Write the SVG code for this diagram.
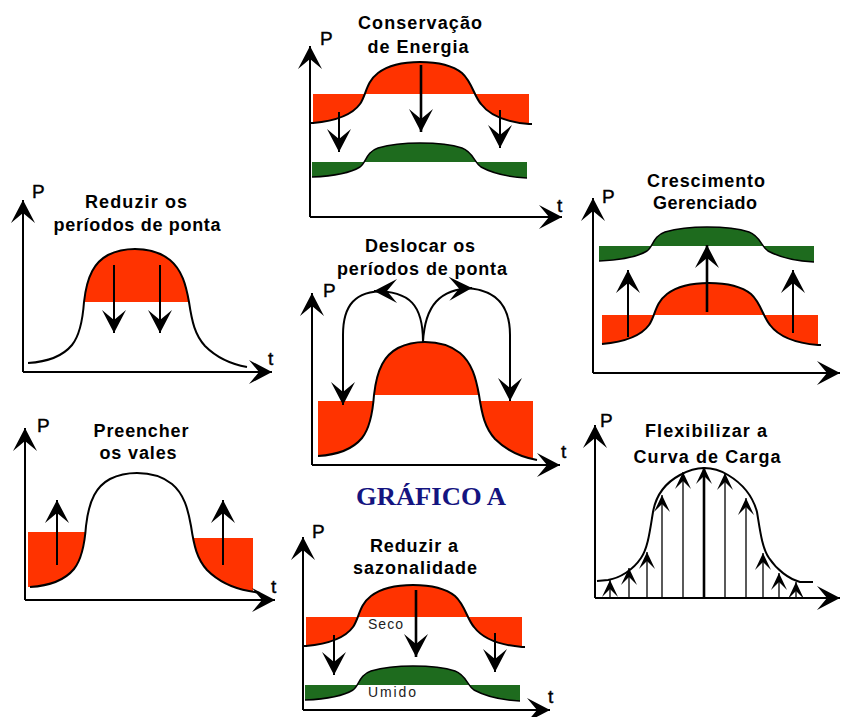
<svg xmlns="http://www.w3.org/2000/svg" xmlns:xlink="http://www.w3.org/1999/xlink" width="841" height="717" viewBox="0 0 841 717">
<style>
.ax{stroke:#000;stroke-width:2;fill:none;marker-end:url(#ah)}
.cv{stroke:#000;stroke-width:2;fill:none}
.cvg{stroke:#000;stroke-width:1.5;fill:none}
.red{fill:#ff3300}
.grn{fill:#1e6b1e}
.ar{stroke:#000;stroke-width:2;fill:none;marker-end:url(#ah)}
.arm{stroke:#000;stroke-width:2.6;fill:none;marker-end:url(#ah)}
.ars{stroke:#000;stroke-width:1.3;fill:none;marker-end:url(#ahs)}
.ttl{font-family:"Liberation Sans",Arial,sans-serif;font-weight:bold;font-size:18px;text-anchor:middle;fill:#000}
.lbl{font-family:"Liberation Sans",Arial,sans-serif;font-size:19px;fill:#000;stroke:#000;stroke-width:0.4}
.sm{font-family:"Liberation Sans",Arial,sans-serif;font-size:14px;fill:#222}
.gr{font-family:"Liberation Serif","Times New Roman",serif;font-weight:bold;font-size:26px;fill:#141480;text-anchor:middle}
</style>
<defs>
<marker id="ah" markerUnits="userSpaceOnUse" orient="auto" overflow="visible" markerWidth="1" markerHeight="1" refX="0" refY="0">
<path d="M0,0 L-23,-12 L-13,0 L-23,12 Z" fill="#000"/>
</marker>
<marker id="ahs" markerUnits="userSpaceOnUse" orient="auto" overflow="visible" markerWidth="1" markerHeight="1" refX="0" refY="0">
<path d="M0,0 L-17,-8 L-9,0 L-17,8 Z" fill="#000"/>
</marker>
<g id="bandR">
<path class="red" d="M313,123 C335,121 352,115 360,104 C366,96 366,82 378,73 C390,64 405,62 420,62 C437,62 452,65 462,73 C472,82 474,96 481,104 C490,116 505,122 529,124 V94 H313 Z"/>
<path class="cv" d="M313,123 C335,121 352,115 360,104 C366,96 366,82 378,73 C390,64 405,62 420,62 C437,62 452,65 462,73 C472,82 474,96 481,104 C490,116 505,122 529,124 L532,124"/>
</g>
<g id="bandG">
<path class="grn" d="M312,177 C335,176 352,172 360,167 C366,163 366,152 378,148 C392,144 405,143 420,143 C437,143 450,144 462,148 C473,152 474,162 481,167 C492,173 508,177 527,178 V162 H312 Z"/>
<path class="cvg" d="M312,177 C335,176 352,172 360,167 C366,163 366,152 378,148 C392,144 405,143 420,143 C437,143 450,144 462,148 C473,152 474,162 481,167 C492,173 508,177 527,178"/>
</g>
<clipPath id="clip5"><path d="M30,587 C47,586 64,581 74,569 C82,559 85,540 86,526 C89,499 97,486 110,479 C120,474 130,473 137,473 C150,473 162,476 172,484 C184,494 188,509 191,526 C194,546 197,559 207,570 C217,580 232,588 249,591 L262,593 V440 H20 V587 Z"/></clipPath>
<clipPath id="clip4"><path d="M318,456 C335,455 352,450 362,438 C370,428 373,409 374,395 C377,368 385,355 398,348 C408,343 418,342 425,342 C438,342 450,345 460,353 C472,363 476,378 479,395 C482,415 485,428 495,439 C505,449 520,457 537,460 V300 H310 V456 Z"/></clipPath>
</defs>
<rect width="841" height="717" fill="#fff"/>

<g id="conservacao">
<use xlink:href="#bandR"/>
<use xlink:href="#bandG"/>
<path class="cv" d="M310,123 H314"/>
<text class="ttl" x="420" y="29" textLength="124" lengthAdjust="spacing">Conservação</text>
<text class="ttl" x="418" y="53" textLength="101" lengthAdjust="spacing">de Energia</text>
<text class="lbl" x="320" y="45">P</text>
<text class="lbl" x="557" y="212">t</text>
</g>

<g id="reduzir-ponta">
<path class="red" d="M84,302 C87,275 95,262 108,255 C118,250 128,249 135,249 C148,249 160,252 170,260 C182,270 186,285 189,302 Z"/>
<path class="cv" d="M28,363 C45,362 62,357 72,345 C80,335 83,316 84,302 C87,275 95,262 108,255 C118,250 128,249 135,249 C148,249 160,252 170,260 C182,270 186,285 189,302 C192,322 195,335 205,346 C215,356 230,364 247,367"/>
<text class="ttl" x="136" y="208" textLength="102" lengthAdjust="spacing">Reduzir os</text>
<text class="ttl" x="137" y="231" textLength="167" lengthAdjust="spacing">períodos de ponta</text>
<text class="lbl" x="32" y="198">P</text>
<text class="lbl" x="268" y="365">t</text>
</g>

<g id="crescimento">
<use xlink:href="#bandG" transform="translate(287,84)"/>
<use xlink:href="#bandR" transform="translate(289,221)"/>
<text class="ttl" x="706" y="187" textLength="118" lengthAdjust="spacing">Crescimento</text>
<text class="ttl" x="705" y="209" textLength="104" lengthAdjust="spacing">Gerenciado</text>
<text class="lbl" x="602" y="203">P</text>
</g>

<g id="deslocar">
<path class="red" d="M374,395 C377,368 385,355 398,348 C408,343 418,342 425,342 C438,342 450,345 460,353 C472,363 476,378 479,395 Z"/>
<g clip-path="url(#clip4)">
<rect class="red" x="318" y="401" width="60" height="62"/>
<rect class="red" x="474" y="401" width="59" height="62"/>
</g>
<path class="cv" d="M318,456 C335,455 352,450 362,438 C370,428 373,409 374,395 C377,368 385,355 398,348 C408,343 418,342 425,342 C438,342 450,345 460,353 C472,363 476,378 479,395 C482,415 485,428 495,439 C505,449 520,457 537,460"/>
<text class="ttl" x="420" y="252" textLength="110" lengthAdjust="spacing">Deslocar os</text>
<text class="ttl" x="422" y="275" textLength="170" lengthAdjust="spacing">períodos de ponta</text>
<text class="lbl" x="323" y="297">P</text>
<text class="lbl" x="561" y="458">t</text>
</g>

<g id="preencher">
<g clip-path="url(#clip5)">
<rect class="red" x="28" y="532" width="60" height="62"/>
<rect class="red" x="185" y="538" width="68" height="60"/>
</g>
<path class="cv" d="M30,587 C47,586 64,581 74,569 C82,559 85,540 86,526 C89,499 97,486 110,479 C120,474 130,473 137,473 C150,473 162,476 172,484 C184,494 188,509 191,526 C194,546 197,559 207,570 C217,580 232,588 249,591 L260,593"/>
<text class="ttl" x="141" y="437" textLength="95" lengthAdjust="spacing">Preencher</text>
<text class="ttl" x="138" y="459" textLength="77" lengthAdjust="spacing">os vales</text>
<text class="lbl" x="37" y="432">P</text>
<text class="lbl" x="271" y="593">t</text>
</g>

<g id="flexibilizar">
<path class="cv" d="M597,581 L608,580 C620,578 633,570 641,558 C648,548 650,530 653,512 C656,495 665,483 680,475 C689,470 696,468 704,468 C713,468 720,470 728,475 C743,484 753,497 757,512 C760,530 762,548 769,558 C777,570 789,579 800,582 L813,582"/>
<text class="ttl" x="706" y="437" textLength="122" lengthAdjust="spacing">Flexibilizar a</text>
<text class="ttl" x="707" y="463" textLength="147" lengthAdjust="spacing">Curva de Carga</text>
<text class="lbl" x="600" y="427">P</text>
</g>

<g id="sazonalidade">
<use xlink:href="#bandR" transform="translate(-7,523)"/>
<use xlink:href="#bandG" transform="translate(-7,523)"/>
<path class="cv" d="M303,646 H307"/>
<text class="sm" x="368" y="629" textLength="35" lengthAdjust="spacing">Seco</text>
<text class="sm" x="368" y="697" textLength="48" lengthAdjust="spacing">Umido</text>
<text class="ttl" x="414" y="552" textLength="88" lengthAdjust="spacing">Reduzir a</text>
<text class="ttl" x="415" y="574" textLength="124" lengthAdjust="spacing">sazonalidade</text>
<text class="lbl" x="312" y="538">P</text>
<text class="lbl" x="548" y="703">t</text>
</g>

<g id="titulo">
<text class="gr" x="431" y="505" textLength="150" lengthAdjust="spacingAndGlyphs">GRÁFICO A</text>
</g>

<g id="connectors">
<path class="ax" d="M310,217 V46"/>
<path class="ax" d="M310,217 H562"/>
<path class="ax" d="M23,372 V200"/>
<path class="ax" d="M23,372 H272"/>
<path class="ax" d="M593,373 V198"/>
<path class="ax" d="M593,373 H840"/>
<path class="ax" d="M312,465 V293"/>
<path class="ax" d="M312,465 H560"/>
<path class="ax" d="M25,600 V428"/>
<path class="ax" d="M25,600 H275"/>
<path class="ax" d="M595,598 V425"/>
<path class="ax" d="M595,598 H840"/>
<path class="ax" d="M303,710 V537"/>
<path class="ax" d="M303,710 H550"/>
<path class="arm" d="M421,65 V132"/>
<path class="ar" d="M339,112 V152"/>
<path class="ar" d="M500,110 V148"/>
<path class="ar" d="M114,265 V333"/>
<path class="ar" d="M160,265 V333"/>
<path class="ar" d="M628,337 V270"/>
<path class="arm" d="M707,312 V245"/>
<path class="ar" d="M793,333 V270"/>
<path class="ar" d="M423,342 C423,305 410,291 374,291"/>
<path class="ar" d="M385,291 C355,291 343,305 343,335 L343,405"/>
<path class="ar" d="M423,342 C425,305 440,289 472,288"/>
<path class="ar" d="M462,288 C495,288 510,305 510,335 L510,401"/>
<path class="ar" d="M57,565 V500"/>
<path class="ar" d="M223,565 V500"/>
<path class="ars" d="M610,598 V580"/>
<path class="ars" d="M629,598 V568"/>
<path class="ars" d="M647,598 V552"/>
<path class="ars" d="M662,598 V495"/>
<path class="ars" d="M683,598 V472"/>
<path class="ars" d="M704,598 V467" style="stroke-width:2.6"/>
<path class="ars" d="M725,598 V473"/>
<path class="ars" d="M746,598 V498"/>
<path class="ars" d="M763,598 V553"/>
<path class="ars" d="M779,598 V573"/>
<path class="ars" d="M796,598 V582"/>
<path class="arm" d="M416,590 V657"/>
<path class="ar" d="M334,635 V675"/>
<path class="ar" d="M495,633 V672"/>
</g>
</svg>
